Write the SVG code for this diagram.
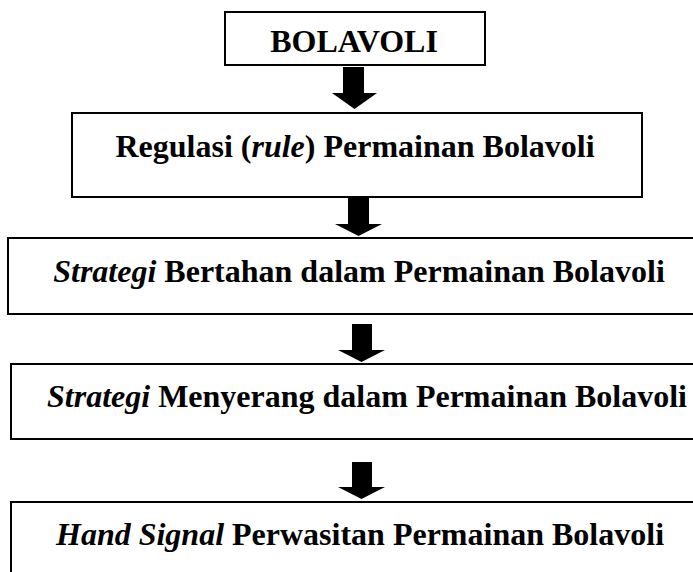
<svg xmlns="http://www.w3.org/2000/svg" width="693" height="572" viewBox="0 0 693 572">
<style>
.box{fill:#fff;stroke:#000;stroke-width:2}
.t{font-family:"Liberation Serif","Times New Roman",serif;font-weight:bold;font-size:32px;fill:#000;text-anchor:middle}
.i{font-style:italic}
.arr{fill:#000;stroke:none}
</style>
<rect width="693" height="572" fill="#fff"/>
<g id="connectors">
<polygon class="arr" points="343,67 364,67 364,93 377,93 354.5,109 332,93 343,93"/>
<polygon class="arr" points="348,197 369,197 369,224 382,224 358.5,236 335,224 348,224"/>
<polygon class="arr" points="352,324 372,324 372,350 385,350 361.5,362 338,350 352,350"/>
<polygon class="arr" points="352,462 372,462 372,487 385,487 361.5,499 338,487 352,487"/>
</g>
<g id="node-bolavoli">
<rect class="box" x="225" y="12" width="260" height="53"/>
<text class="t" x="354" y="52">BOLAVOLI</text>
</g>
<g id="node-regulasi">
<rect class="box" x="72" y="113" width="570" height="84"/>
<text class="t" x="355" y="157">Regulasi (<tspan class="i">rule</tspan>) Permainan Bolavoli</text>
</g>
<g id="node-bertahan">
<rect class="box" x="8" y="238" width="700" height="76"/>
<text class="t" x="359" y="282"><tspan class="i">Strategi</tspan> Bertahan dalam Permainan Bolavoli</text>
</g>
<g id="node-menyerang">
<rect class="box" x="11" y="364" width="700" height="75"/>
<text class="t" x="367" y="407"><tspan class="i">Strategi</tspan> Menyerang dalam Permainan Bolavoli</text>
</g>
<g id="node-handsignal">
<rect class="box" x="11" y="502" width="700" height="100"/>
<text class="t" x="360" y="545"><tspan class="i">Hand Signal</tspan> Perwasitan Permainan Bolavoli</text>
</g>
</svg>
